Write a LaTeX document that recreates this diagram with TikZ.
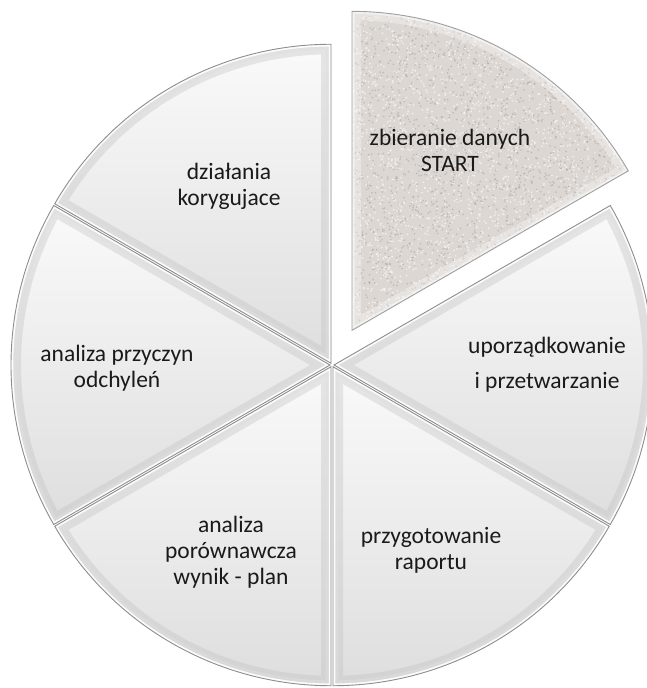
\documentclass[tikz,border=0pt]{standalone}
\usepackage{fontspec}
\setmainfont{Carlito}
\definecolor{txt}{HTML}{1A1A1A}
\definecolor{rimc}{HTML}{8E8E8E}
\definecolor{granite}{HTML}{DCD7D3}
\definecolor{speckD}{HTML}{A39C97}
\definecolor{speckL}{HTML}{F6F4F2}
\newcommand\pslice[3]{%
  \pgfmathsetmacro\pmid{(#1+#2)/2}%
  \begin{scope}[shift={(332,323)}, shift={(\pmid:#3)}]
    \def\spath{(0,0) -- (#1:\R) arc[start angle=#1, end angle=#2, radius=\R] -- cycle}
    \begin{scope}
      \clip \spath;
      \path[top color=gray!4, bottom color=gray!26] \spath;
      \draw[gray!50, opacity=.35, line width=20pt] \spath;
      \draw[gray!25, opacity=.5, line width=11pt] \spath;
      \draw[white, opacity=.9, line width=4.5pt] \spath;
    \end{scope}
    \draw[rimc, line width=0.9pt] \spath;
  \end{scope}}
\begin{document}
\begin{tikzpicture}[x=1pt,y=1pt,
  lbl/.style={align=center, font=\fontsize{23.5}{26}\selectfont, text=txt, inner sep=0pt}]
\useasboundingbox (0,0) rectangle (646,688);
\def\R{319}
% regular slices
\pslice{-30}{30}{2}
\pslice{-90}{-30}{2}
\pslice{210}{270}{2}
\pslice{150}{210}{2}
\pslice{90}{150}{2}
% exploded textured slice
\begin{scope}[shift={(332,323)}, shift={(60:40)}]
  \def\spath{(0,0) -- (30:\R) arc[start angle=30, end angle=90, radius=\R] -- cycle}
  \begin{scope}
    \clip \spath;
    \fill[granite] \spath;
    \pgfmathsetseed{7}
    \foreach \i in {1,...,2600}{
      \fill[speckD, opacity=.5] ({280*rnd},{322*rnd}) circle[radius=0.9];
    }
    \foreach \i in {1,...,2600}{
      \fill[speckL, opacity=.8] ({280*rnd},{322*rnd}) circle[radius=1];
    }
    \draw[white, opacity=.3, line width=18pt] \spath;
    \draw[white, opacity=.5, line width=5pt] \spath;
  \end{scope}
  \draw[gray!75, line width=0.9pt] \spath;
\end{scope}
% labels
\node[lbl] (s1) at (450,538) {zbieranie danych\\START};
\node[lbl] (s2) at (547,323) {uporządkowanie\\[9pt]i przetwarzanie};
\node[lbl] (s3) at (431,138) {przygotowanie\\raportu};
\node[lbl] (s4) at (231,136) {analiza\\porównawcza\\wynik - plan};
\node[lbl] (s5) at (117,320) {analiza przyczyn\\odchyleń};
\node[lbl] (s6) at (229,502) {działania\\korygujace};
\end{tikzpicture}
\end{document}
